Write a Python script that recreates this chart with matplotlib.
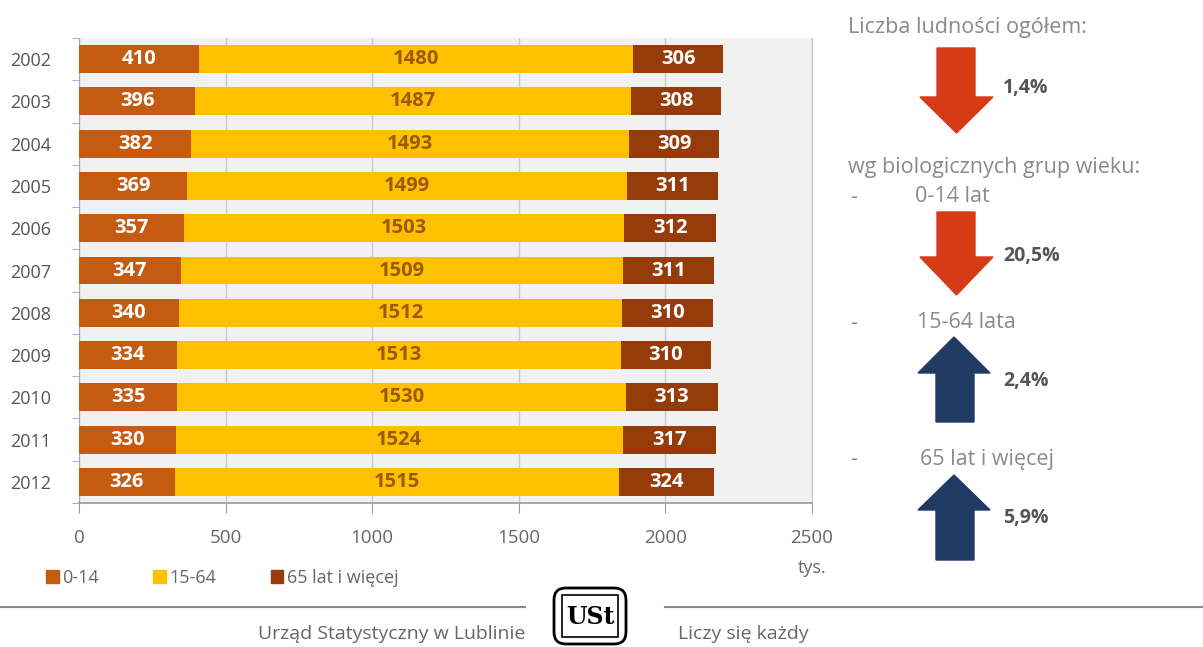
import matplotlib.pyplot as plt
import matplotlib.patches as mpatches
import numpy as np

plt.rcParams['font.family'] = ['Open Sans', 'DejaVu Sans']

# data
years = ['2002', '2003', '2004', '2005', '2006', '2007', '2008', '2009', '2010', '2011', '2012']
age_0_14 = [410, 396, 382, 369, 357, 347, 340, 334, 335, 330, 326]
age_15_64 = [1480, 1487, 1493, 1499, 1503, 1509, 1512, 1513, 1530, 1524, 1515]
age_65 = [306, 308, 309, 311, 312, 311, 310, 310, 313, 317, 324]
series_names = ['0-14', '15-64', '65 lat i więcej']
changes = ['1,4%', '20,5%', '2,4%', '5,9%']

c1, c2, c3 = '#c55a11', '#ffc000', '#963c0b'
W, H = 1203, 647

fig = plt.figure(figsize=(W / 100, H / 100), dpi=100)
ax = fig.add_axes([79 / W, 1 - 503 / H, 733 / W, 465 / H])
ax.set_facecolor('#f1f1f1')

y = np.arange(len(years))
a = np.array(age_0_14)
b = np.array(age_15_64)
c = np.array(age_65)
h = 0.66
ax.barh(y, a, h, color=c1, zorder=3)
ax.barh(y, b, h, left=a, color=c2, zorder=3)
ax.barh(y, c, h, left=a + b, color=c3, zorder=3)

for i in range(len(years)):
    ax.text(a[i] / 2, y[i], str(a[i]), ha='center', va='center', color='white',
            fontsize=14.5, fontweight='bold', zorder=4)
    ax.text(a[i] + b[i] / 2, y[i], str(b[i]), ha='center', va='center', color='#9a5a06',
            fontsize=14.5, fontweight='bold', zorder=4)
    ax.text(a[i] + b[i] + c[i] / 2, y[i], str(c[i]), ha='center', va='center', color='white',
            fontsize=14.5, fontweight='bold', zorder=4)

ax.set_xlim(0, 2500)
ax.set_ylim(len(years) - 0.55, -0.47)
ax.set_xticks([0, 500, 1000, 1500, 2000, 2500])
ax.set_yticks(y)
ax.set_yticklabels(years)
ax.set_yticks(np.arange(len(years) + 1) - 0.5, minor=True)
ax.tick_params(axis='y', which='major', length=0, pad=20, labelsize=13, labelcolor='#555555')
ax.tick_params(axis='y', which='minor', length=5, color='#8fa3c4', direction='out')
ax.tick_params(axis='x', length=7, color='#999999', labelsize=13.5, labelcolor='#666666', pad=12)
ax.grid(axis='x', color='#c4cad6', linewidth=1, zorder=1)
ax.spines['top'].set_visible(False)
ax.spines['left'].set_color('#9aaac4')
ax.spines['right'].set_color('#c8c8c8')
ax.spines['bottom'].set_color('#999999')
ax.spines['bottom'].set_linewidth(1.2)

fig.text(812 / W, 1 - 568 / H, 'tys.', ha='center', va='center', fontsize=13, color='#666666')

handles = [mpatches.Patch(color=col) for col in (c1, c2, c3)]
fig.legend(handles, series_names, loc='center left', bbox_to_anchor=(30 / W, 1 - 578 / H),
           ncol=3, frameon=False, handlelength=0.7, handleheight=0.7, handletextpad=0.2,
           columnspacing=3.0, fontsize=13, labelcolor='#666666')

# overlay in pixel coordinates for the side panel and footer
ov = fig.add_axes([0, 0, 1, 1], zorder=5)
ov.set_xlim(0, W)
ov.set_ylim(H, 0)
ov.axis('off')


def arrow(x0, x1, hx0, hx1, y_tail, y_base, y_tip, color):
    xm = (hx0 + hx1) / 2
    pts = [(x0, y_tail), (x1, y_tail), (x1, y_base), (hx1, y_base), (xm, y_tip),
           (hx0, y_base), (x0, y_base)]
    ov.add_patch(mpatches.Polygon(pts, closed=True, color=color))


arrow(937, 975, 920, 993, 48, 97, 133, '#d63a17')
arrow(937, 975, 920, 993, 212, 257, 295, '#d63a17')
arrow(936, 974, 918, 990, 422, 373, 337, '#1f3a63')
arrow(936, 974, 918, 990, 560, 510, 475, '#1f3a63')

txt = dict(color='#8a8a8a', fontsize=15.5, va='center')
ov.text(848, 28, 'Liczba ludności ogółem:', **txt)
ov.text(848, 168, 'wg biologicznych grup wieku:', **txt)
ov.text(850, 198, '-', **txt)
ov.text(915, 196, '0-14 lat', **txt)
ov.text(850, 323, '-', **txt)
ov.text(917, 323, '15-64 lata', **txt)
ov.text(850, 460, '-', **txt)
ov.text(920, 460, '65 lat i więcej', **txt)
for yy, s in zip([88, 256, 381, 518], changes):
    ov.text(1003, yy, s, color='#555555', fontsize=14, fontweight='bold', va='center')

# footer
ov.plot([0, 525], [607, 607], color='#8a8a8a', lw=1.5)
ov.plot([665, W], [607, 607], color='#8a8a8a', lw=1.5)
ov.text(525, 634, 'Urząd Statystyczny w Lublinie', ha='right', va='center', fontsize=14, color='#666666')
ov.text(678, 634, 'Liczy się każdy', ha='left', va='center', fontsize=14, color='#666666')
ov.add_patch(mpatches.FancyBboxPatch((556, 590), 68, 52, boxstyle='round,pad=2,rounding_size=12',
                                     fc='white', ec='black', lw=2))
ov.add_patch(mpatches.Rectangle((562, 595), 56, 42, fc='none', ec='black', lw=1.2))
ov.text(590, 617, 'USt', ha='center', va='center', fontsize=17, fontweight='bold',
        family='DejaVu Serif', color='black')

fig.savefig('out.png', dpi=100)
